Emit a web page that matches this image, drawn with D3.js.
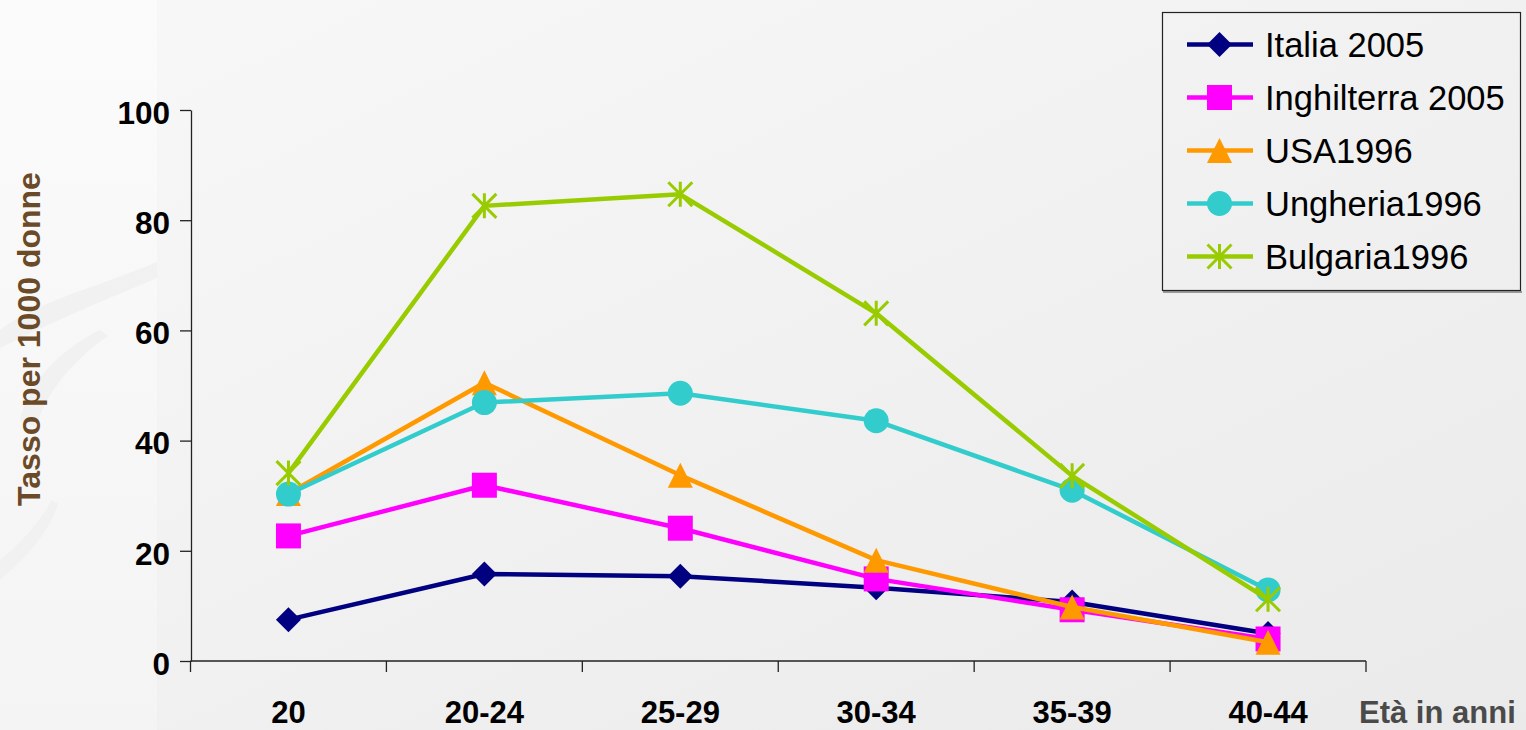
<!DOCTYPE html>
<html>
<head>
<meta charset="utf-8">
<script src="https://cdn.jsdelivr.net/npm/d3@7"></script>
<style>
  html, body { margin: 0; padding: 0; background: #f2f2f2; }
  svg { display: block; }
</style>
</head>
<body>
<script>
// Age classes and fertility rates (births per 1000 women)
const categories = ["20", "20-24", "25-29", "30-34", "35-39", "40-44"];
const seriesNames = ["Italia 2005", "Inghilterra 2005", "USA1996", "Ungheria1996", "Bulgaria1996"];
const italia      = [7.5, 15.8, 15.4, 13.3, 10.7, 5.0];
const inghilterra = [22.7, 31.9, 24.1, 14.9, 9.3, 4.0];
const usa         = [30.4, 50.5, 33.7, 18.3, 9.8, 3.4];
const ungheria    = [30.3, 46.9, 48.6, 43.6, 31.0, 12.9];
const bulgaria    = [34.1, 82.6, 84.7, 63.1, 33.6, 11.2];
const yTicks = [0, 20, 40, 60, 80, 100];

const seriesValues = [italia, inghilterra, usa, ungheria, bulgaria];
const colors = ["#000080", "#ff00ff", "#ff9900", "#33cccc", "#99cc00"];
const markers = ["diamond", "square", "triangle", "circle", "star"];

const W = 1526, H = 730;
const svg = d3.select("body").append("svg").attr("width", W).attr("height", H)
  .style("font-family", "'Liberation Sans', Arial, sans-serif");

// background
const defs = svg.append("defs");
const bg = defs.append("linearGradient").attr("id", "bg")
  .attr("x1", "0").attr("y1", "0").attr("x2", "1").attr("y2", "1");
bg.append("stop").attr("offset", "0").attr("stop-color", "#f8f8f8");
bg.append("stop").attr("offset", "1").attr("stop-color", "#eaeaea");
svg.append("rect").attr("width", W).attr("height", H).attr("fill", "url(#bg)");
const side = defs.append("linearGradient").attr("id", "side")
  .attr("x1", "0").attr("y1", "0").attr("x2", "0").attr("y2", "1");
side.append("stop").attr("offset", "0").attr("stop-color", "#fbfbfb");
side.append("stop").attr("offset", "1").attr("stop-color", "#f4f4f4");
svg.append("rect").attr("width", 157).attr("height", H).attr("fill", "url(#side)");
// faint decorative strokes on the left margin
const deco = svg.append("g").attr("fill", "#eeeeee").attr("opacity", 0.6);
deco.append("path").attr("d", "M0,330 C40,300 90,290 157,262 L157,278 C110,298 60,318 0,348 Z");
deco.append("path").attr("d", "M20,420 C30,380 60,350 100,330 L108,336 C70,362 45,395 36,428 Z");
deco.append("path").attr("d", "M0,560 C25,540 40,520 52,500 L58,504 C50,530 30,555 0,580 Z");

// scales
const x = d3.scaleBand().domain(categories).range([190.5, 1366]).padding(0);
const cx = c => x(c) + x.bandwidth() / 2;
const y = d3.scaleLinear().domain([0, 100]).range([661, 110]);

// y axis
const yAxis = svg.append("g").attr("transform", "translate(191,0)")
  .call(d3.axisLeft(y).tickValues(yTicks).tickSize(11).tickPadding(10).tickSizeOuter(0));
yAxis.select(".domain").attr("stroke", "#222").attr("stroke-width", 1.3);
yAxis.selectAll(".tick line").attr("stroke", "#222").attr("stroke-width", 1.3);
yAxis.selectAll(".tick text").attr("fill", "#000").attr("font-size", 31.5)
  .attr("font-weight", "bold").attr("dy", "0.42em")
  .style("font-family", "'Liberation Sans', Arial, sans-serif");

// x axis: labels at category centres, ticks at band boundaries
const xAxis = svg.append("g").attr("transform", "translate(0,661)");
xAxis.append("line").attr("x1", x.range()[0]).attr("x2", x.range()[1])
  .attr("stroke", "#222").attr("stroke-width", 1.3);
const bounds = categories.map(c => x(c)).concat([x.range()[1]]);
xAxis.selectAll("line.tk").data(bounds).join("line").attr("class", "tk")
  .attr("x1", d => d).attr("x2", d => d).attr("y1", 0).attr("y2", 11)
  .attr("stroke", "#222").attr("stroke-width", 1.3);
xAxis.selectAll("text.cat").data(categories).join("text").attr("class", "cat")
  .attr("x", d => cx(d)).attr("y", 62).attr("text-anchor", "middle")
  .attr("font-size", 31).attr("font-weight", "bold").attr("fill", "#000")
  .text(d => d);

// axis titles
svg.append("text").attr("x", 1359).attr("y", 723)
  .attr("font-size", 31).attr("font-weight", "bold").attr("fill", "#4a4a4a")
  .text("Età in anni");
svg.append("text").attr("transform", "translate(40,339) rotate(-90)")
  .attr("text-anchor", "middle").attr("font-size", 32).attr("font-weight", "bold")
  .attr("fill", "#6b4a27").text("Tasso per 1000 donne");

// marker drawing
function drawMarker(g, type, color) {
  if (type === "diamond") {
    g.append("path").attr("d", "M0,-12.5L12.5,0L0,12.5L-12.5,0Z").attr("fill", color);
  } else if (type === "square") {
    g.append("rect").attr("x", -12.5).attr("y", -12.5).attr("width", 25).attr("height", 25).attr("fill", color);
  } else if (type === "triangle") {
    g.append("path").attr("d", "M0,-12.5L12.5,12.5L-12.5,12.5Z").attr("fill", color);
  } else if (type === "circle") {
    g.append("circle").attr("r", 12.5).attr("fill", color);
  } else if (type === "star") {
    g.append("path").attr("d", "M-12,-12L12,12M-12,12L12,-12M0,-12.5L0,12.5")
      .attr("stroke", color).attr("stroke-width", 3).attr("fill", "none");
  }
}

const line = d3.line().x((d, i) => cx(categories[i])).y(d => y(d));

seriesValues.forEach((vals, s) => {
  const g = svg.append("g");
  g.append("path").datum(vals).attr("d", line).attr("fill", "none")
    .attr("stroke", colors[s]).attr("stroke-width", 4.5).attr("stroke-linejoin", "round");
  vals.forEach((v, i) => {
    const m = g.append("g").attr("transform", `translate(${cx(categories[i])},${y(v)})`);
    drawMarker(m, markers[s], colors[s]);
  });
});

// legend
const leg = svg.append("g");
leg.append("line").attr("x1", 1163).attr("x2", 1522).attr("y1", 292).attr("y2", 292)
  .attr("stroke", "#9a9a9a").attr("stroke-width", 2);
leg.append("rect").attr("x", 1162.5).attr("y", 12.5).attr("width", 358).attr("height", 278)
  .attr("fill", "none").attr("stroke", "#222").attr("stroke-width", 1.2);
const legRow = d3.scaleLinear().domain([0, 4]).range([44.5, 256.5]);
seriesNames.forEach((name, s) => {
  const row = leg.append("g").attr("transform", `translate(0,${legRow(s)})`);
  row.append("line").attr("x1", 1187).attr("x2", 1253)
    .attr("stroke", colors[s]).attr("stroke-width", 4.5);
  drawMarker(row.append("g").attr("transform", "translate(1219.5,0)"), markers[s], colors[s]);
  row.append("text").attr("x", 1265).attr("dy", "0.36em")
    .attr("font-size", 34.5).attr("fill", "#000").text(name);
});
</script>
</body>
</html>
